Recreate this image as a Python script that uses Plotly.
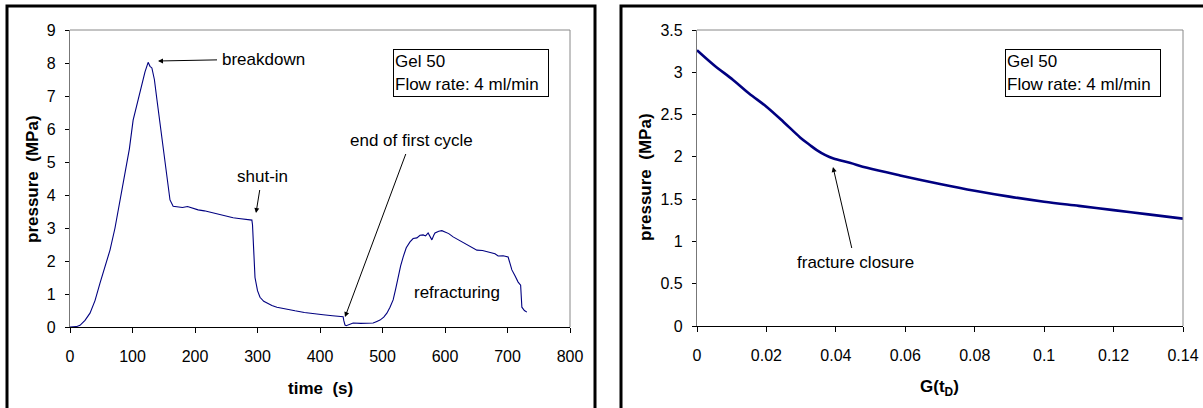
import plotly.graph_objects as go

W, H = 1203, 408

# Left chart: pressure vs time
time_s = [0, 5, 10, 16, 24, 32, 40, 48, 56, 64, 72, 77, 86, 95, 101, 110, 120, 125, 128, 131, 135, 139, 143, 147,
          151, 155, 160, 165, 172, 180, 188, 197, 205, 215, 225, 235, 245, 255, 261, 270, 280, 291, 292, 294, 296,
          300, 304, 310, 315, 323, 331, 345, 360, 375, 389, 405, 420, 437, 438, 440, 442, 447, 453, 465, 475, 485,
          490, 496, 502, 507, 512, 517, 521, 525, 529, 533, 538, 544, 549, 555, 560, 565, 569, 573, 576, 579, 582,
          584, 590, 595, 600, 606, 613, 620, 629, 640, 651, 660, 672, 680, 685, 693, 701, 704, 707, 712, 717, 721,
          722, 723, 727, 731]
pressure = [0.0, 0.0, 0.01, 0.05, 0.2, 0.42, 0.8, 1.33, 1.8, 2.33, 3.0, 3.5, 4.4, 5.4, 6.27, 7.0, 7.73, 8.02, 7.9,
            7.85, 7.5, 6.9, 6.3, 5.67, 5.05, 4.45, 3.85, 3.66, 3.64, 3.62, 3.65, 3.6, 3.55, 3.52, 3.47, 3.42, 3.38,
            3.34, 3.31, 3.29, 3.27, 3.24, 3.1, 2.3, 1.5, 1.1, 0.9, 0.78, 0.72, 0.65, 0.6, 0.54, 0.49, 0.44, 0.4,
            0.37, 0.34, 0.31, 0.2, 0.06, 0.04, 0.08, 0.12, 0.11, 0.12, 0.12, 0.16, 0.21, 0.3, 0.42, 0.6, 0.82, 1.15,
            1.52, 1.85, 2.12, 2.4, 2.58, 2.68, 2.7, 2.78, 2.79, 2.76, 2.85, 2.75, 2.64, 2.78, 2.85, 2.9, 2.92, 2.88,
            2.83, 2.73, 2.66, 2.55, 2.46, 2.33, 2.32, 2.27, 2.22, 2.15, 2.16, 2.12, 1.95, 1.73, 1.55, 1.36, 1.27,
            1.0, 0.6, 0.5, 0.45]

# Right chart: pressure vs G(tD)
g_td = [0.0, 0.005, 0.0104, 0.015, 0.0201, 0.025, 0.0297, 0.0325, 0.0345, 0.037, 0.0393, 0.044, 0.049, 0.0585,
        0.07, 0.08, 0.09, 0.1, 0.11, 0.12, 0.13, 0.14]
g_pressure = [3.26, 3.08, 2.91, 2.75, 2.59, 2.41, 2.23, 2.14, 2.08, 2.02, 1.98, 1.93, 1.87, 1.78, 1.68, 1.6, 1.53,
              1.47, 1.42, 1.37, 1.32, 1.27]

left_xticks = [0, 100, 200, 300, 400, 500, 600, 700, 800]
left_yticks = [0, 1, 2, 3, 4, 5, 6, 7, 8, 9]
right_xticks = [0, 0.02, 0.04, 0.06, 0.08, 0.1, 0.12, 0.14]
right_xlabels = ["0", "0.02", "0.04", "0.06", "0.08", "0.1", "0.12", "0.14"]
right_yticks = [0, 0.5, 1, 1.5, 2, 2.5, 3, 3.5]
right_ylabels = ["0", "0.5", "1", "1.5", "2", "2.5", "3", "3.5"]

FONT = "Liberation Sans, Arial, sans-serif"
NAVY = "#000080"
TICK_SIZE = 16
TXT_SIZE = 17

def px(x):
    return x / W

def py(y):
    return 1 - y / H

fig = go.Figure()
fig.add_trace(go.Scatter(x=time_s, y=pressure, mode="lines", line=dict(color=NAVY, width=1.1),
                         xaxis="x", yaxis="y", showlegend=False))
fig.add_trace(go.Scatter(x=g_td, y=g_pressure, mode="lines", line=dict(color=NAVY, width=2.6, shape="spline"),
                         xaxis="x2", yaxis="y2", showlegend=False))

axis_common = dict(showgrid=False, zeroline=False, ticks="outside", tickcolor="black", automargin=False,
                   tickfont=dict(family=FONT, size=TICK_SIZE, color="black"), showline=True)
xcommon = dict(linecolor="black", linewidth=1.3, ticklen=5, ticklabelstandoff=10, **axis_common)
ycommon = dict(linecolor="#777777", linewidth=1.3, ticklen=4, ticklabelstandoff=6, **axis_common)

fig.update_layout(
    width=W, height=H, margin=dict(l=0, r=0, t=0, b=0),
    paper_bgcolor="white", plot_bgcolor="white",
    xaxis=dict(domain=[px(70), px(570)], range=[0, 800], anchor="y", tickvals=left_xticks, **xcommon),
    yaxis=dict(domain=[py(327), py(30)], range=[0, 9], anchor="x", tickvals=left_yticks, **ycommon),
    xaxis2=dict(domain=[px(697), px(1183)], range=[0, 0.14], anchor="y2", tickvals=right_xticks,
                ticktext=right_xlabels, **xcommon),
    yaxis2=dict(domain=[py(326), py(30)], range=[0, 3.5], anchor="x2", tickvals=right_yticks,
                ticktext=right_ylabels, **ycommon),
)

shapes = []
# plot area borders (gray, top & right)
for (x0, x1, y0, y1) in [(70, 570, 327, 30), (697, 1183, 326, 30)]:
    shapes.append(dict(type="line", xref="paper", yref="paper", x0=px(x0), x1=px(x1), y0=py(y1), y1=py(y1),
                       line=dict(color="#888888", width=1)))
    shapes.append(dict(type="line", xref="paper", yref="paper", x0=px(x1), x1=px(x1), y0=py(y0), y1=py(y1),
                       line=dict(color="#888888", width=1)))
# outer frames
shapes.append(dict(type="rect", xref="paper", yref="paper", x0=px(7), x1=px(595), y0=py(420), y1=py(6),
                   line=dict(color="black", width=3)))
shapes.append(dict(type="rect", xref="paper", yref="paper", x0=px(621), x1=px(1215), y0=py(420), y1=py(6),
                   line=dict(color="black", width=3)))
fig.update_layout(shapes=shapes)

ann = []
txt_font = dict(family=FONT, size=TXT_SIZE, color="black")
title_font = dict(family=FONT, size=TXT_SIZE, color="black")

# axis titles
ann.append(dict(xref="paper", yref="paper", x=px(320), y=py(388), text="<b>time  (s)</b>", showarrow=False,
                font=title_font, xanchor="center", yanchor="middle"))
ann.append(dict(xref="paper", yref="paper", x=px(939), y=py(388), text="<b>G(t<sub>D</sub>)</b>", showarrow=False,
                font=title_font, xanchor="center", yanchor="middle"))
ann.append(dict(xref="paper", yref="paper", x=px(32), y=py(179), text="<b>pressure  (MPa)</b>", showarrow=False,
                font=title_font, xanchor="center", yanchor="middle", textangle=-90))
ann.append(dict(xref="paper", yref="paper", x=px(645), y=py(177), text="<b>pressure  (MPa)</b>", showarrow=False,
                font=title_font, xanchor="center", yanchor="middle", textangle=-90))

# info boxes
for bx in (393, 1005):
    ann.append(dict(xref="paper", yref="paper", x=px(bx), y=py(49), xanchor="left", yanchor="top",
                    text="Gel 50<br>Flow rate: 4 ml/min", showarrow=False, align="left", font=txt_font,
                    bordercolor="black", borderwidth=1, borderpad=1, bgcolor="white", width=152, height=44))

def arrow_ann(text, hx, hy, textx, texty):
    # label centred at (textx, texty) pixels, arrow head at (hx, hy) pixels
    ann.append(dict(xref="paper", yref="paper", x=px(hx), y=py(hy), ax=textx - hx, ay=texty - hy,
                    axref="pixel", ayref="pixel", text=text, showarrow=True, arrowhead=2,
                    arrowsize=1.0, arrowwidth=1, arrowcolor="black", standoff=0, font=txt_font,
                    borderpad=4))

arrow_ann("breakdown", 158, 61, 263, 59)
arrow_ann("shut-in", 256, 213, 262, 176)
arrow_ann("end of first cycle", 345, 317, 411, 140)
ann.append(dict(xref="paper", yref="paper", x=px(457), y=py(292), text="refracturing", showarrow=False,
                font=txt_font, xanchor="center", yanchor="middle"))
arrow_ann("fracture closure", 833, 167, 855, 262)

fig.update_layout(annotations=ann)
fig.write_html("out.html", config={"displayModeBar": False},
               post_script="document.body.style.margin='0';document.body.style.overflow='hidden';")
